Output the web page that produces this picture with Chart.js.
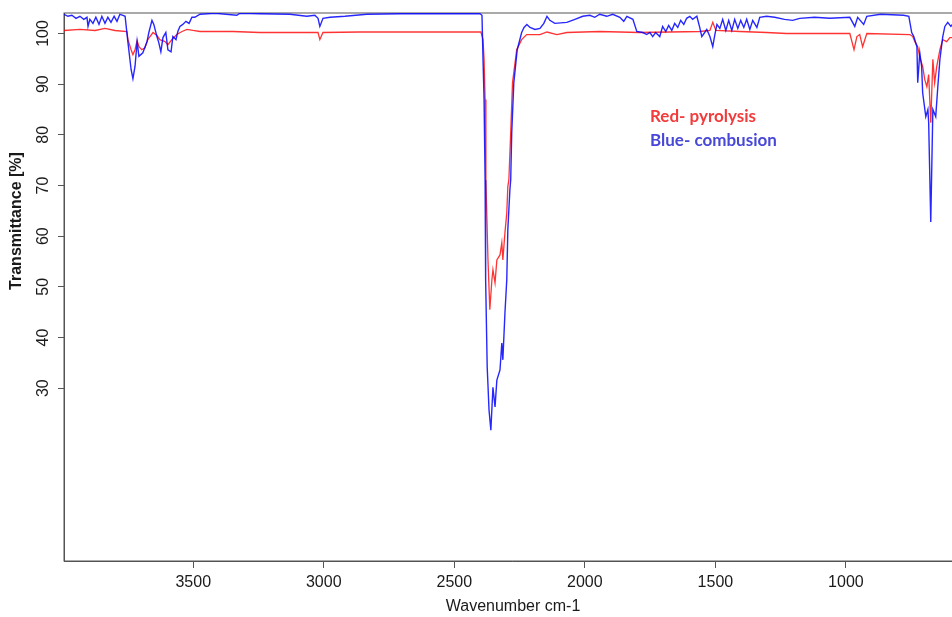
<!DOCTYPE html>
<html>
<head>
<meta charset="utf-8">
<script src="https://cdn.jsdelivr.net/npm/chart.js@4.4.0/dist/chart.umd.min.js"></script>
<style>
  html, body { margin: 0; padding: 0; overflow: hidden; background: #fff; }
  canvas { display: block; }
</style>
</head>
<body>
<canvas id="ftir" width="960" height="617"></canvas>
<script>
// Spectrum values (wavenumber in cm-1, transmittance in %)
const blueWavenumber = [3995,3980,3965,3949,3934,3919,3907,3903,3896,3884,
  3873,3861,3850,3838,3827,3815,3803,3792,3781,3769,
  3761,3750,3738,3731,3723,3715,3708,3693,3677,3670,
  3658,3651,3639,3632,3624,3616,3605,3597,3585,3578,
  3566,3559,3551,3540,3528,3516,3505,3494,3474,3417,
  3333,3321,3245,3130,3065,3034,3022,3015,3003,2976,
  2919,2835,2708,2402,2394,2390,2386,2382,2380,2374,
  2367,2360,2352,2344,2337,2325,2318,2314,2306,2299,
  2295,2287,2284,2280,2272,2259,2242,2233,2222,2210,
  2191,2172,2157,2145,2134,2115,2069,2038,2008,1981,
  1962,1943,1916,1893,1866,1851,1839,1816,1801,1778,
  1763,1751,1740,1729,1713,1702,1690,1679,1667,1656,
  1644,1633,1621,1610,1598,1587,1571,1560,1552,1541,
  1533,1521,1510,1502,1494,1483,1472,1460,1449,1437,
  1426,1414,1403,1391,1380,1368,1357,1341,1330,1304,
  1273,1235,1204,1177,1120,1062,985,966,955,932,
  920,867,779,759,748,740,728,725,717,710,
  706,694,686,683,675,667,656,648,640,629,
  621,610,598,583,564];
const blueCombustion = [103.8,103.4,103.6,103.0,103.4,102.8,103.2,101.4,102.8,102.0,
  103.2,101.8,103.4,102.0,103.2,102.2,103.4,102.4,103.8,103.6,
  103.4,98.2,92.9,91.1,93.5,98.4,95.5,96.2,98.4,100.2,
  102.6,101.8,99.4,98.2,96.4,99.2,100.2,96.8,96.4,99.4,
  98.8,100.4,101.4,101.8,102.4,102.0,103.2,103.2,103.8,104.0,
  103.6,104.0,103.9,103.8,103.4,103.6,103.0,101.4,103.0,103.2,
  103.4,103.8,103.9,103.9,103.6,94.9,87.0,71.1,51.4,34.2,
  25.7,21.7,30.2,26.3,31.6,33.6,38.9,35.6,44.9,51.4,
  61.3,69.2,71.1,80.4,90.3,96.8,100.2,101.2,101.8,101.2,
  100.8,101.0,102.0,103.4,102.6,102.0,102.2,102.8,103.4,103.6,
  103.2,103.8,103.4,103.8,103.2,102.4,103.4,102.8,100.4,100.2,
  99.8,100.2,99.4,100.2,99.4,101.4,100.4,101.6,100.6,102.0,
  101.2,102.6,101.8,103.0,103.4,102.8,103.4,101.2,99.4,100.2,
  100.8,99.4,97.4,99.8,101.8,101.0,102.8,100.6,102.6,100.6,
  102.8,101.0,102.6,101.2,102.8,100.8,102.6,101.2,103.2,103.4,
  103.2,102.8,102.6,103.0,103.2,103.0,103.2,101.4,103.2,101.8,
  103.4,103.8,103.6,103.4,100.2,99.4,97.4,90.3,96.2,93.5,
  88.3,83.6,85.0,82.4,62.8,85.0,83.6,89.5,94.9,99.4,
  101.4,102.2,101.4,102.4,102.8];

const redWavenumber = [3995,3934,3876,3838,3800,3754,3750,3738,3731,3723,
  3715,3708,3697,3685,3674,3654,3639,3628,3608,3597,
  3582,3563,3543,3524,3501,3474,3348,3245,3091,3022,
  3015,3003,2862,2398,2390,2386,2382,2379,2371,2364,
  2356,2352,2344,2337,2325,2318,2314,2306,2299,2295,
  2291,2284,2277,2261,2242,2223,2172,2145,2107,2069,
  1943,1790,1560,1521,1510,1498,1406,1304,1227,1101,
  985,969,958,947,936,920,755,744,736,725,
  717,706,698,690,683,675,667,660,652,640,
  629,614,602,583,564];
const redPyrolysis = [100.6,100.8,100.6,101.0,100.6,100.4,98.8,96.8,95.8,96.8,
  98.6,97.4,96.8,97.2,98.8,100.2,99.6,98.8,98.4,97.8,
  98.8,99.8,100.4,100.8,100.6,100.4,100.4,100.2,100.2,100.2,
  98.8,100.2,100.3,100.3,98.8,94.9,87.0,71.1,55.3,45.5,
  51.4,53.4,50.8,55.3,56.3,58.7,55.3,60.7,64.6,69.8,
  71.1,80.4,90.3,96.8,98.8,99.8,99.8,100.3,99.8,100.2,
  100.4,100.2,100.4,100.6,102.2,100.6,100.4,100.2,100.0,100.0,
  100.0,96.8,99.4,99.8,97.4,100.0,99.8,99.4,98.4,97.4,
  95.3,93.5,90.9,89.5,91.9,82.4,94.9,90.3,93.5,96.8,
  98.8,98.4,99.2,99.2,99.4];

const xTickValues = [3500, 3000, 2500, 2000, 1500, 1000];
const yTickValues = [30, 40, 50, 60, 70, 80, 90, 100];
const legendLines = ["Red- pyrolysis", "Blue- combusion"];

const toPoints = (xs, ys) => xs.map((x, i) => ({ x: x, y: ys[i] }));

// Box, rotated y labels, axis titles and the text legend
const decorations = {
    id: 'decorations',
    beforeDatasetsDraw(chart) {
        const { ctx, chartArea: a } = chart;
        ctx.save();
        ctx.strokeStyle = '#555';
        ctx.lineWidth = 1;
        ctx.strokeRect(a.left, a.top, a.right - a.left, a.bottom - a.top);
        ctx.restore();
    },
    afterDraw(chart) {
        const { ctx } = chart;
        const yScale = chart.scales.y;
        ctx.save();
        ctx.fillStyle = '#1a1a1a';
        ctx.textAlign = 'center';
        ctx.textBaseline = 'middle';

        ctx.font = '16px "Liberation Sans", Arial, sans-serif';
        yTickValues.forEach(v => {
            ctx.save();
            ctx.translate(44, yScale.getPixelForValue(v));
            ctx.rotate(-Math.PI / 2);
            ctx.fillText(String(v), 0, 0);
            ctx.restore();
        });

        ctx.font = 'bold 16px "Liberation Sans", Arial, sans-serif';
        ctx.save();
        ctx.translate(17, 221);
        ctx.rotate(-Math.PI / 2);
        ctx.fillText('Transmittance [%]', 0, 0);
        ctx.restore();

        ctx.font = '16px "Liberation Sans", Arial, sans-serif';
        ctx.fillText('Wavenumber cm-1', 513, 607);

        ctx.textAlign = 'left';
        ctx.font = 'bold 17px Lato, "Open Sans", sans-serif';
        ctx.fillStyle = '#f23c3c';
        ctx.fillText(legendLines[0], 650, 117);
        ctx.fillStyle = '#4848d6';
        ctx.fillText(legendLines[1], 650, 141);
        ctx.restore();
    }
};

new Chart(document.getElementById('ftir').getContext('2d'), {
    type: 'line',
    data: {
        datasets: [
            {
                label: 'Blue- combusion',
                data: toPoints(blueWavenumber, blueCombustion),
                borderColor: 'rgba(0, 0, 255, 0.85)',
                borderWidth: 1.4,
                pointRadius: 0,
                tension: 0,
                fill: false
            },
            {
                label: 'Red- pyrolysis',
                data: toPoints(redWavenumber, redPyrolysis),
                borderColor: 'rgba(255, 0, 0, 0.8)',
                borderWidth: 1.3,
                pointRadius: 0,
                tension: 0,
                fill: false
            }
        ]
    },
    options: {
        responsive: false,
        animation: false,
        layout: { padding: { top: 13, left: 0, right: 0, bottom: 0 } },
        plugins: {
            legend: { display: false },
            tooltip: { enabled: false }
        },
        scales: {
            x: {
                type: 'linear',
                reverse: true,
                min: 563,
                max: 3995,
                afterFit: (s) => { s.height = 56; },
                afterBuildTicks: (s) => {
                    s.ticks = xTickValues.map(v => ({ value: v }));
                },
                grid: { drawOnChartArea: false, drawTicks: true, tickLength: 7, color: '#555' },
                border: { display: true, color: '#555' },
                ticks: {
                    autoSkip: false,
                    maxRotation: 0,
                    padding: 5,
                    color: '#1a1a1a',
                    font: { family: '"Liberation Sans", Arial, sans-serif', size: 16 },
                    callback: (v) => String(v)
                }
            },
            y: {
                type: 'linear',
                min: -4.1,
                max: 104.05,
                afterFit: (s) => { s.width = 64; },
                afterBuildTicks: (s) => {
                    s.ticks = yTickValues.map(v => ({ value: v }));
                },
                grid: { drawOnChartArea: false, drawTicks: true, tickLength: 6, color: '#555' },
                border: { display: true, color: '#555' },
                ticks: { display: false }
            }
        }
    },
    plugins: [decorations]
});
</script>
</body>
</html>
